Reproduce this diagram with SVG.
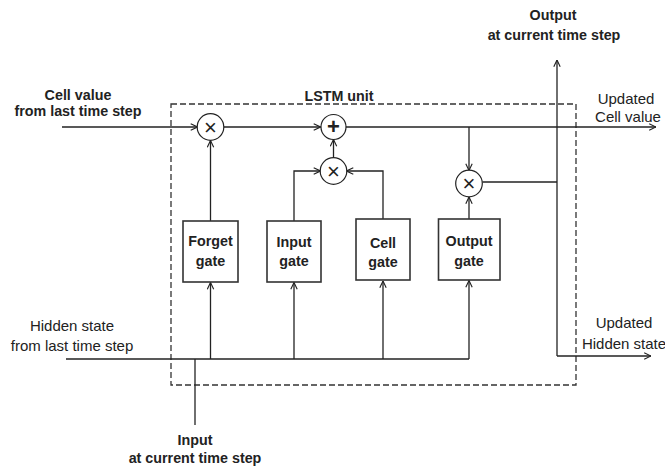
<svg xmlns="http://www.w3.org/2000/svg" width="665" height="469" viewBox="0 0 665 469">
<defs>
<marker id="arr" viewBox="0 0 10 10" refX="9.5" refY="5" markerWidth="8" markerHeight="8" markerUnits="userSpaceOnUse" orient="auto">
<path d="M1,1 L9.5,5 L1,9" fill="none" stroke="#222" stroke-width="1.4"/>
</marker>
<style>
text{font-family:"Liberation Sans",Arial,sans-serif;font-size:15px;fill:#222;text-anchor:middle}
.b{font-weight:bold;font-size:14.3px}
.ln{fill:none;stroke:#222;stroke-width:1.3}
.ar{marker-end:url(#arr)}
.box{fill:#fff;stroke:#333;stroke-width:1.6}
.op{fill:#fff;stroke:#222;stroke-width:1.2}
.sym{font-size:22px;font-weight:normal;dominant-baseline:central}
.dash{fill:none;stroke:#333;stroke-width:1.3;stroke-dasharray:6,3}
</style>
</defs>
<rect id="lstm-unit" class="dash" x="171" y="104" width="405" height="281"/>
<g id="connectors">
<line class="ln ar" x1="62" y1="127" x2="197.5" y2="127"/>
<line class="ln ar" x1="224" y1="127" x2="320.5" y2="127"/>
<line class="ln ar" x1="346" y1="127" x2="656" y2="127"/>
<line class="ln ar" x1="210.5" y1="221" x2="210.5" y2="140.5"/>
<line class="ln ar" x1="333.5" y1="157.5" x2="333.5" y2="139.5"/>
<polyline class="ln ar" points="294,221 294,171 320.5,171"/>
<polyline class="ln ar" points="383,219 383,171 346.5,171"/>
<line class="ln ar" x1="469" y1="127" x2="469" y2="170.5"/>
<line class="ln ar" x1="469" y1="219" x2="469" y2="197"/>
<polyline class="ln" points="482.5,182 557,182"/>
<line class="ln ar" x1="557" y1="356" x2="557" y2="60"/>
<line class="ln ar" x1="557" y1="356" x2="651" y2="356"/>
<line class="ln" x1="66" y1="359" x2="469" y2="359"/>
<line class="ln ar" x1="210.5" y1="359" x2="210.5" y2="282.5"/>
<line class="ln ar" x1="294" y1="359" x2="294" y2="282.5"/>
<line class="ln ar" x1="383" y1="359" x2="383" y2="281"/>
<line class="ln ar" x1="469" y1="359" x2="469" y2="280.5"/>
<line class="ln" x1="195" y1="359" x2="195" y2="425"/>
</g>
<g id="forget-mult"><circle class="op" cx="210.5" cy="127" r="13.3"/><text class="sym" x="210.5" y="127">×</text></g>
<g id="plus"><circle class="op" cx="333.5" cy="127" r="12.5"/><text class="sym" x="333.5" y="126.5" style="font-weight:bold">+</text></g>
<g id="input-mult"><circle class="op" cx="333.5" cy="171" r="13.3"/><text class="sym" x="333.5" y="171">×</text></g>
<g id="output-mult"><circle class="op" cx="469" cy="183.5" r="13.3"/><text class="sym" x="469" y="183.5">×</text></g>
<g id="forget-gate"><rect class="box" x="183" y="221" width="55" height="61"/><text class="b" x="210.5" y="246">Forget</text><text class="b" x="210.5" y="266">gate</text></g>
<g id="input-gate"><rect class="box" x="267" y="221" width="54" height="61"/><text class="b" x="294" y="247">Input</text><text class="b" x="294" y="266">gate</text></g>
<g id="cell-gate"><rect class="box" x="356" y="219" width="54" height="61"/><text class="b" x="383" y="248">Cell</text><text class="b" x="383" y="267">gate</text></g>
<g id="output-gate"><rect class="box" x="438.5" y="219" width="61.5" height="61"/><text class="b" x="469" y="246">Output</text><text class="b" x="469" y="266">gate</text></g>
<g id="labels">
<text class="b" x="339" y="101">LSTM unit</text>
<text class="b" x="78" y="100">Cell value</text>
<text class="b" x="78" y="116">from last time step</text>
<text x="626" y="104">Updated</text>
<text x="628" y="122">Cell value</text>
<text class="b" x="553" y="20">Output</text>
<text class="b" x="554" y="40">at current time step</text>
<text x="72" y="331">Hidden state</text>
<text x="72" y="351">from last time step</text>
<text x="624" y="328">Updated</text>
<text x="624" y="349">Hidden state</text>
<text class="b" x="195" y="445">Input</text>
<text class="b" x="195" y="463">at current time step</text>
</g>
</svg>
